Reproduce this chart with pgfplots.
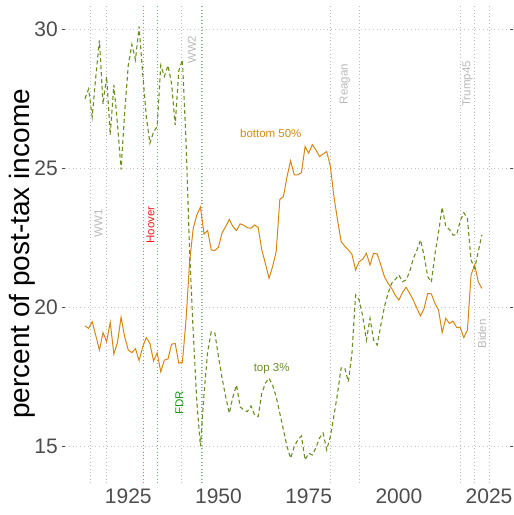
\documentclass[border=0pt]{standalone}
\usepackage{pgfplots}
\pgfplotsset{compat=1.18}
\usepackage{fontspec}
\setmainfont{Liberation Sans}
\definecolor{bottomc}{RGB}{212,136,20}
\definecolor{topc}{RGB}{107,142,35}
\definecolor{evgray}{RGB}{185,185,185}
\definecolor{fdrc}{RGB}{30,150,30}
\definecolor{fdrl}{RGB}{100,185,100}
\definecolor{hooverc}{RGB}{240,30,30}
\definecolor{hooverl}{RGB}{245,110,110}
\definecolor{tickc}{RGB}{77,77,77}
\pgfplotstableread{
year val
1913 19.33
1914 19.24
1915 19.48
1916 18.98
1917 18.46
1918 19.09
1919 18.76
1920 19.46
1921 18.32
1922 18.73
1923 19.64
1924 18.94
1925 18.46
1926 18.37
1927 18.51
1928 18.08
1929 18.58
1930 18.91
1931 18.70
1932 18.07
1933 18.36
1934 17.68
1935 18.10
1936 18.14
1937 18.67
1938 18.70
1939 17.99
1940 18.02
1941 19.54
1942 21.64
1943 22.84
1944 23.32
1945 23.60
1946 22.63
1947 22.76
1948 22.06
1949 22.04
1950 22.16
1951 22.68
1952 22.90
1953 23.16
1954 22.90
1955 22.76
1956 23.00
1957 22.95
1958 22.86
1959 22.84
1960 22.96
1961 22.87
1962 22.06
1963 21.58
1964 21.04
1965 21.46
1966 22.00
1967 23.88
1968 23.98
1969 24.70
1970 25.27
1971 24.76
1972 24.76
1973 24.84
1974 25.78
1975 25.54
1976 25.85
1977 25.66
1978 25.42
1979 25.51
1980 25.60
1981 25.08
1982 23.98
1983 23.14
1984 22.36
1985 22.20
1986 22.06
1987 21.90
1988 21.34
1989 21.64
1990 21.73
1991 21.94
1992 21.52
1993 21.94
1994 21.92
1995 21.52
1996 21.10
1997 20.86
1998 20.68
1999 20.44
2000 20.26
2001 20.53
2002 20.72
2003 20.50
2004 20.26
2005 19.96
2006 19.69
2007 19.96
2008 20.50
2009 20.48
2010 20.14
2011 19.90
2012 19.09
2013 19.60
2014 19.42
2015 19.50
2016 19.28
2017 19.27
2018 18.91
2019 19.18
2020 21.16
2021 21.52
2022 20.92
2023 20.68
}\bottomdata
\pgfplotstableread{
year val
1913 27.50
1914 27.85
1915 26.85
1916 28.30
1917 29.60
1918 27.30
1919 28.30
1920 26.20
1921 28.00
1922 26.60
1923 24.95
1924 27.00
1925 28.70
1926 29.45
1927 28.90
1928 30.10
1929 28.40
1930 26.85
1931 25.90
1932 26.30
1933 26.50
1934 28.70
1935 28.30
1936 28.70
1937 28.05
1938 26.55
1939 28.50
1940 28.90
1941 26.00
1942 22.00
1943 19.10
1944 16.60
1945 15.00
1946 16.90
1947 18.40
1948 19.12
1949 19.07
1950 18.22
1951 17.45
1952 16.78
1953 16.19
1954 16.78
1955 17.20
1956 16.42
1957 16.31
1958 16.25
1959 16.45
1960 16.13
1961 16.07
1962 16.90
1963 17.27
1964 17.45
1965 17.20
1966 16.78
1967 16.19
1968 15.59
1969 14.99
1970 14.57
1971 14.99
1972 15.23
1973 15.37
1974 14.51
1975 14.75
1976 14.69
1977 14.94
1978 15.30
1979 15.48
1980 14.87
1981 15.35
1982 16.10
1983 16.90
1984 17.82
1985 17.82
1986 17.32
1987 18.35
1988 20.44
1989 20.26
1990 19.66
1991 18.82
1992 19.60
1993 18.82
1994 18.64
1995 19.36
1996 20.02
1997 20.50
1998 20.86
1999 21.00
2000 21.16
2001 20.92
2002 20.98
2003 21.28
2004 21.75
2005 22.05
2006 22.42
2007 21.85
2008 21.10
2009 20.90
2010 21.90
2011 22.70
2012 23.60
2013 22.90
2014 22.80
2015 22.60
2016 22.60
2017 23.10
2018 23.40
2019 23.20
2020 21.70
2021 21.40
2022 22.00
2023 22.60
}\topdata
\begin{document}
\begin{tikzpicture}
\begin{axis}[
  at={(0,0)}, anchor=south west,
  scale only axis, width=445pt, height=478pt,
  xmin=1907.46, xmax=2030.8, ymin=13.68, ymax=30.87,
  axis line style={draw=none},
  xtick={1925,1950,1975,2000,2025}, xticklabels={1925,1950,1975,2000,2025},
  ytick={15,20,25,30}, yticklabels={15,20,25,30},
  xtick style={draw=none},
  ytick style={draw=tickc, line width=0.7pt},
  tick align=outside, major tick length=3pt,
  ymajorgrids,
  grid style={gray!45, line width=0.7pt, dash pattern=on 0.8pt off 3pt},
  ticklabel style={font=\fontsize{21}{21}\selectfont, text=tickc},
  yticklabel style={inner sep=0pt, xshift=-4pt},
  xticklabel style={inner sep=0pt, yshift=-3pt},
]
\addplot[color=evgray, line width=0.8pt, dash pattern=on 0.8pt off 2.6pt] coordinates {(1914.57,13.68) (1914.57,30.87)};
\addplot[color=evgray, line width=0.8pt, dash pattern=on 0.8pt off 2.6pt] coordinates {(1918.86,13.68) (1918.86,30.87)};
\addplot[color=evgray, line width=0.8pt, dash pattern=on 0.8pt off 2.6pt] coordinates {(1939.67,13.68) (1939.67,30.87)};
\addplot[color=evgray, line width=0.8pt, dash pattern=on 0.8pt off 2.6pt] coordinates {(1945.67,13.68) (1945.67,30.87)};
\addplot[color=evgray, line width=0.8pt, dash pattern=on 0.8pt off 2.6pt] coordinates {(1981.05,13.68) (1981.05,30.87)};
\addplot[color=evgray, line width=0.8pt, dash pattern=on 0.8pt off 2.6pt] coordinates {(1989.05,13.68) (1989.05,30.87)};
\addplot[color=evgray, line width=0.8pt, dash pattern=on 0.8pt off 2.6pt] coordinates {(2017.05,13.68) (2017.05,30.87)};
\addplot[color=evgray, line width=0.8pt, dash pattern=on 0.8pt off 2.6pt] coordinates {(2021.05,13.68) (2021.05,30.87)};
\addplot[color=evgray, line width=0.8pt, dash pattern=on 0.8pt off 2.6pt] coordinates {(2025.05,13.68) (2025.05,30.87)};
\addplot[color=hooverl, line width=0.8pt, dash pattern=on 0.8pt off 2.6pt] coordinates {(1929.17,13.68) (1929.17,30.87)};
\addplot[color=fdrl, line width=0.8pt, dash pattern=on 0.8pt off 2.6pt] coordinates {(1933.17,13.68) (1933.17,30.87)};
\addplot[color=fdrl, line width=0.8pt, dash pattern=on 0.8pt off 2.6pt] coordinates {(1945.28,13.68) (1945.28,30.87)};
\addplot[color=bottomc, line width=1pt] table[x=year, y=val] {\bottomdata};
\addplot[color=topc, line width=1.1pt, dash pattern=on 4pt off 3pt] table[x=year, y=val] {\topdata};
\tikzset{ann/.style={font=\fontsize{11.5}{12}\selectfont, inner sep=0pt}}
\node[ann, rotate=90, text=evgray] at (axis cs:1916.7,23.03) {WW1};
\node[ann, rotate=90, text=hooverc] at (axis cs:1931.17,22.96) {Hoover};
\node[ann, rotate=90, text=evgray] at (axis cs:1942.6,29.26) {WW2};
\node[ann, rotate=90, text=fdrc] at (axis cs:1939.2,16.56) {FDR};
\node[ann, rotate=90, text=evgray] at (axis cs:1985.05,28.03) {Reagan};
\node[ann, rotate=90, text=evgray] at (axis cs:2019.05,28.03) {Trump45};
\node[ann, rotate=90, text=evgray] at (axis cs:2023.05,19.04) {Biden};
\node[ann, text=bottomc] at (axis cs:1964.5,26.27) {bottom 50\%};
\node[ann, text=topc] at (axis cs:1964.75,17.78) {top 3\%};
\end{axis}
\node[rotate=90, font=\fontsize{28}{28}\selectfont, inner sep=0pt] at (-43pt,229pt) {percent of post-tax income};
\pgfresetboundingbox
\useasboundingbox (-65pt,-32pt) rectangle (449pt,483pt);
\end{tikzpicture}
\end{document}
